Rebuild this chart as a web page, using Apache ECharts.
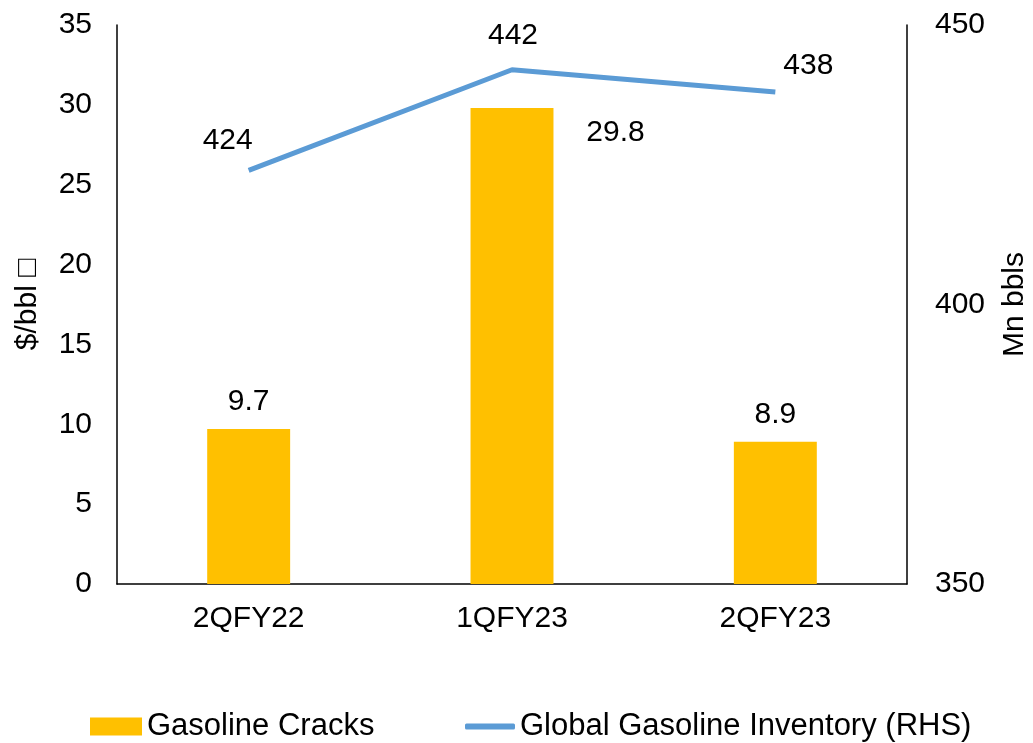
<!DOCTYPE html>
<html>
<head>
<meta charset="utf-8">
<script src="https://cdn.jsdelivr.net/npm/echarts@6/dist/echarts.min.js"></script>
<style>
html, body { margin: 0; padding: 0; background: #fff; }
#chart { width: 1033px; height: 743px; }
</style>
</head>
<body>
<div id="chart"></div>
<script>
var quarters = ['2QFY22', '1QFY23', '2QFY23'];
var cracks = [9.7, 29.8, 8.9];
var inventory = [424, 442, 438];

var FONT = '"Liberation Sans", Arial, sans-serif';
var txt = { color: '#000', fontFamily: FONT, fontSize: 30 };
var legendText = { color: '#000', fontFamily: FONT, fontSize: 31 };

var chartDom = document.getElementById('chart');
var myChart = echarts.init(chartDom);
var option;
option = {
	animation: false,
	grid: { left: 117, right: 126, top: 25, bottom: 159, outerBoundsMode: 'none' },
	legend: [ {
		left: 90,
		top: 711,
		padding: 0,
		itemWidth: 52,
		itemHeight: 18,
		itemGap: 6,
		textStyle: legendText,
		data: [ { name: 'Gasoline Cracks', icon: 'rect' } ]
	}, {
		left: 465,
		top: 711,
		padding: 0,
		itemWidth: 50,
		itemHeight: 6,
		itemGap: 6,
		icon: 'roundRect',
		textStyle: legendText,
		data: [ { name: 'Global Gasoline Inventory (RHS)', icon: 'roundRect' } ]
	} ],
	xAxis: {
		type: 'category',
		data: quarters,
		axisLine: { lineStyle: { color: '#000', width: 1.5 } },
		axisTick: { show: false },
		axisLabel: Object.assign({ margin: 20 }, txt)
	},
	yAxis: [ {
		type: 'value',
		min: 0,
		max: 35,
		interval: 5,
		name: '$/bbl \u25A1',
		nameLocation: 'middle',
		nameGap: 74,
		nameTextStyle: txt,
		axisLine: { show: true, lineStyle: { color: '#000', width: 1.5 } },
		axisTick: { show: false },
		splitLine: { show: false },
		axisLabel: Object.assign({ margin: 25 }, txt)
	}, {
		type: 'value',
		min: 350,
		max: 450,
		interval: 50,
		name: 'Mn bbls',
		nameLocation: 'middle',
		nameRotate: 90,
		nameGap: 93,
		nameTextStyle: txt,
		axisLine: { show: true, lineStyle: { color: '#000', width: 1.5 } },
		axisTick: { show: false },
		splitLine: { show: false },
		axisLabel: Object.assign({ margin: 28 }, txt)
	} ],
	series: [ {
		name: 'Gasoline Cracks',
		type: 'bar',
		barWidth: '31.5%',
		itemStyle: { color: '#FFC000' },
		data: cracks,
		label: Object.assign({ show: true, position: 'top', distance: 12 }, txt),
		labelLayout: function (p) {
			if (p.dataIndex === 1) {
				return { x: p.rect.x + p.rect.width + 62, y: p.rect.y + 25, align: 'center', verticalAlign: 'middle' };
			}
			return {};
		}
	}, {
		name: 'Global Gasoline Inventory (RHS)',
		type: 'line',
		yAxisIndex: 1,
		symbol: 'circle',
		symbolSize: 0,
		showSymbol: true,
		lineStyle: { color: '#5B9BD5', width: 5 },
		itemStyle: { color: '#5B9BD5' },
		data: inventory,
		label: Object.assign({ show: true, position: 'top' }, txt),
		labelLayout: function (p) {
			var offs = [[-21, -30], [1, -34], [33, -26]];
			var o = offs[p.dataIndex];
			return { x: p.rect.x + p.rect.width / 2 + o[0], y: p.rect.y + p.rect.height / 2 + o[1], align: 'center', verticalAlign: 'middle' };
		}
	} ]
};
option && myChart.setOption(option);
</script>
</body>
</html>
